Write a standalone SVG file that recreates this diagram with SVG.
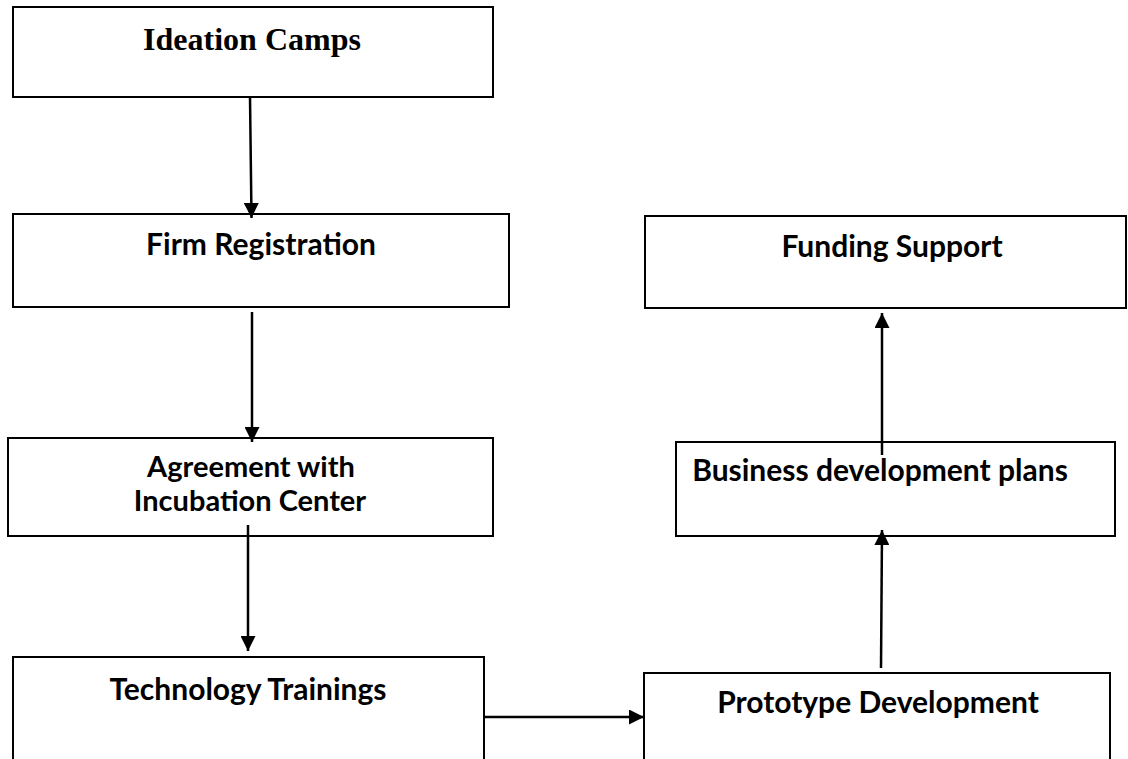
<svg xmlns="http://www.w3.org/2000/svg" width="1128" height="759" viewBox="0 0 1128 759">
<defs>
<style>
.box{fill:#fff;stroke:#000;stroke-width:2}
.t{font-family:Lato,"Liberation Sans",sans-serif;font-weight:bold;font-size:30px;fill:#000;text-anchor:middle}
.t2{font-size:29px}
.ts{font-family:"Liberation Serif","Times New Roman",serif;font-weight:bold;font-size:32px;fill:#000;text-anchor:middle}
.c{stroke:#000;stroke-width:2.5;fill:none}
</style>
<marker id="ah" viewBox="0 0 10 10" refX="10" refY="5" markerWidth="15" markerHeight="15" markerUnits="userSpaceOnUse" orient="auto">
<path d="M0,0 L10,5 L0,10 Z" fill="#000"/>
</marker>
</defs>
<rect width="1128" height="759" fill="#fff"/>
<g id="node-ideation">
<rect class="box" x="13" y="7" width="480" height="90"/>
<text class="ts" x="252" y="50">Ideation Camps</text>
</g>
<g id="node-firm">
<rect class="box" x="13" y="214" width="496" height="93"/>
<text class="t" x="261" y="255">Firm Registration</text>
</g>
<g id="node-agreement">
<rect class="box" x="8" y="438" width="485" height="98"/>
<text class="t t2" x="251" y="477">Agreement with</text>
<text class="t t2" x="250" y="511">Incubation Center</text>
</g>
<g id="node-tech">
<rect class="box" x="13" y="657" width="471" height="110"/>
<text class="t" x="248" y="700">Technology Trainings</text>
</g>
<g id="node-prototype">
<rect class="box" x="644" y="673" width="466" height="100"/>
<text class="t" x="878" y="713">Prototype Development</text>
</g>
<g id="node-business">
<rect class="box" x="676" y="442" width="439" height="94"/>
<text class="t" x="880" y="481">Business development plans</text>
</g>
<g id="node-funding">
<rect class="box" x="645" y="216" width="481" height="92"/>
<text class="t" x="892" y="257">Funding Support</text>
</g>
<g id="connectors">
<line class="c" x1="250" y1="97" x2="251.5" y2="218" marker-end="url(#ah)"/>
<line class="c" x1="252" y1="312" x2="252" y2="442" marker-end="url(#ah)"/>
<line class="c" x1="248" y1="525" x2="248" y2="651" marker-end="url(#ah)"/>
<line class="c" x1="484" y1="717" x2="644" y2="717" marker-end="url(#ah)"/>
<line class="c" x1="881" y1="668" x2="882" y2="530" marker-end="url(#ah)"/>
<line class="c" x1="882" y1="455" x2="882" y2="313" marker-end="url(#ah)"/>
</g>
</svg>
